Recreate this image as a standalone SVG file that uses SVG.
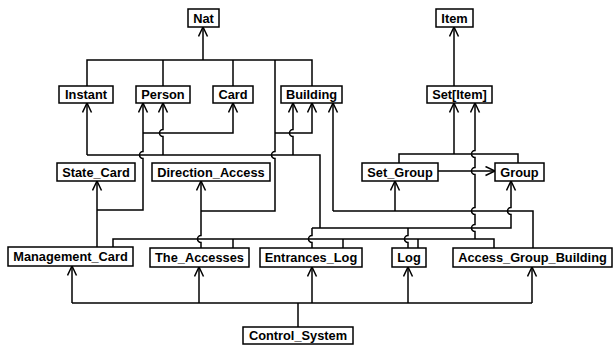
<svg xmlns="http://www.w3.org/2000/svg" width="613" height="345" viewBox="0 0 613 345">
  <style>
    .box { fill: #ffffff; stroke: #000000; stroke-width: 1.5; }
    .lbl { font-family: "Liberation Sans", Arial, sans-serif; font-weight: bold; font-size: 12.8px; fill: #000000; text-anchor: middle; }
    .ln { fill: none; stroke: #000000; stroke-width: 1.5; }
    .ar { marker-end: url(#open); }
  </style>
  <defs>
    <marker id="open" markerUnits="userSpaceOnUse" markerWidth="12" markerHeight="12" viewBox="0 0 12 12" refX="10" refY="5" orient="auto">
      <path d="M0.5,0.5 L10,5 L0.5,9.5" fill="none" stroke="#000000" stroke-width="1.5"/>
    </marker>
  </defs>
  <rect width="613" height="345" fill="#ffffff"/>

  <g id="connectors">
    <!-- Nat -->
    <path class="ln ar" d="M203,60 V27"/>
    <path class="ln" d="M87,86 V60 H312 V86"/>
    <path class="ln" d="M163,60 V86"/>
    <path class="ln" d="M233,60 V86"/>
    <path class="ln" d="M275,60 V151.5 a3.5,3.5 0 0 0 0,7 V211 H201"/>
    <path class="ln ar" d="M275,133 H312 V103"/>
    <!-- Direction_Access / The_Accesses -->
    <path class="ln ar" d="M201,211 V181"/>
    <path class="ln" d="M201,211 V235.5 a3.5,3.5 0 0 0 0,7 V248"/>
    <!-- State_Card / Management_Card -->
    <path class="ln ar" d="M97,210 V181"/>
    <path class="ln" d="M97,210 V247"/>
    <path class="ln ar" d="M97,210 H143 V158.5 a3.5,3.5 0 0 1 0,-7 V103"/>
    <path class="ln ar" d="M143,133 H233 V103"/>
    <!-- Instant / Person / Building bus -->
    <path class="ln ar" d="M87,155 V103"/>
    <path class="ln" d="M87,155 H320 V228"/>
    <path class="ln ar" d="M163,155 V136.5 a3.5,3.5 0 0 1 0,-7 V103"/>
    <path class="ln ar" d="M293,155 V136.5 a3.5,3.5 0 0 1 0,-7 V103"/>
    <path class="ln ar" d="M312,228 H511 V214.5 a3.5,3.5 0 0 1 0,-7 V181"/>
    <path class="ln" d="M312,228 V235.5 a3.5,3.5 0 0 0 0,7 V248"/>
    <path class="ln" d="M408,228 V235.5 a3.5,3.5 0 0 0 0,7 V248"/>
    <!-- Building / Set_Group to Access_Group_Building -->
    <path class="ln ar" d="M333,211 V103"/>
    <path class="ln" d="M333,211 H533 V248"/>
    <path class="ln ar" d="M395,211 V181"/>
    <!-- Set[Item] -->
    <path class="ln ar" d="M454,154 V103"/>
    <path class="ln" d="M399,163 V154 H518 V163"/>
    <path class="ln ar" d="M475,239 V231.5 a3.5,3.5 0 0 1 0,-7 V214.5 a3.5,3.5 0 0 1 0,-7 V174.5 a3.5,3.5 0 0 1 0,-7 V157.5 a3.5,3.5 0 0 1 0,-7 V103"/>
    <path class="ln" d="M113,247 V239 H494 V248"/>
    <path class="ln" d="M233,239 V248"/>
    <path class="ln" d="M343,239 V248"/>
    <path class="ln" d="M418,239 V248"/>
    <!-- Item -->
    <path class="ln ar" d="M454,86 V27"/>
    <!-- Set_Group to Group -->
    <path class="ln ar" d="M438,171 H495"/>
    <!-- Control_System -->
    <path class="ln" d="M298,327 V303"/>
    <path class="ln" d="M72,303 H532"/>
    <path class="ln ar" d="M72,303 V266"/>
    <path class="ln ar" d="M199,303 V267"/>
    <path class="ln ar" d="M312,303 V267"/>
    <path class="ln ar" d="M408,303 V267"/>
    <path class="ln ar" d="M532,303 V267"/>
  </g>

  <g id="Nat"><rect class="box" x="188" y="9" width="31" height="18"/><text class="lbl" x="203.5" y="22.6">Nat</text></g>
  <g id="Item"><rect class="box" x="436" y="9" width="37" height="18"/><text class="lbl" x="454.5" y="22.6">Item</text></g>
  <g id="Instant"><rect class="box" x="59" y="86" width="54" height="17"/><text class="lbl" x="86" y="99">Instant</text></g>
  <g id="Person"><rect class="box" x="136" y="86" width="54" height="17"/><text class="lbl" x="163" y="99">Person</text></g>
  <g id="Card"><rect class="box" x="213" y="86" width="40" height="17"/><text class="lbl" x="233" y="99">Card</text></g>
  <g id="Building"><rect class="box" x="281" y="86" width="61" height="17"/><text class="lbl" x="311.5" y="99">Building</text></g>
  <g id="Set_Item"><rect class="box" x="427" y="86" width="65" height="17"/><text class="lbl" x="459.5" y="99">Set[Item]</text></g>
  <g id="State_Card"><rect class="box" x="57" y="163" width="78" height="18"/><text class="lbl" x="96" y="176.5">State_Card</text></g>
  <g id="Direction_Access"><rect class="box" x="152" y="163" width="118" height="18"/><text class="lbl" x="211" y="176.5">Direction_Access</text></g>
  <g id="Set_Group"><rect class="box" x="362" y="163" width="76" height="18"/><text class="lbl" x="400" y="176.5">Set_Group</text></g>
  <g id="Group"><rect class="box" x="495" y="163" width="49" height="18"/><text class="lbl" x="519.5" y="176.5">Group</text></g>
  <g id="Management_Card"><rect class="box" x="8" y="247" width="125" height="19"/><text class="lbl" x="70.5" y="261">Management_Card</text></g>
  <g id="The_Accesses"><rect class="box" x="150" y="248" width="99" height="19"/><text class="lbl" x="199.5" y="262">The_Accesses</text></g>
  <g id="Entrances_Log"><rect class="box" x="260" y="248" width="102" height="19"/><text class="lbl" x="311" y="262">Entrances_Log</text></g>
  <g id="Log"><rect class="box" x="392" y="248" width="34" height="19"/><text class="lbl" x="409" y="262">Log</text></g>
  <g id="Access_Group_Building"><rect class="box" x="453" y="248" width="159" height="19"/><text class="lbl" x="532.5" y="262">Access_Group_Building</text></g>
  <g id="Control_System"><rect class="box" x="243" y="327" width="110" height="17"/><text class="lbl" x="298" y="340">Control_System</text></g>
</svg>
